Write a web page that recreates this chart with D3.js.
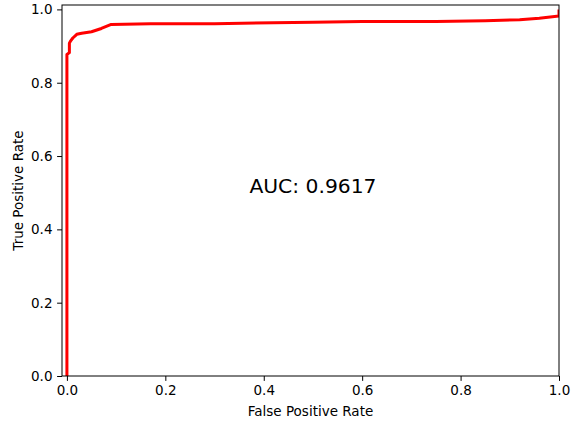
<!DOCTYPE html>
<html>
<head>
<meta charset="utf-8">
<script src="https://cdn.jsdelivr.net/npm/d3@7"></script>
<style>
  body { margin: 0; background: #fff; }
  svg { display: block; font-family: "DejaVu Sans", sans-serif; }
</style>
</head>
<body>
<div id="chart"></div>
<script>
// ROC curve points
var fpr = [0, 0, 0.005, 0.005, 0.008, 0.012, 0.02, 0.03, 0.05, 0.07, 0.09, 0.17, 0.3, 0.5, 0.6, 0.75, 0.85, 0.92, 0.96, 1.0, 1.0];
var tpr = [0, 0.877, 0.882, 0.908, 0.915, 0.922, 0.932, 0.935, 0.939, 0.948, 0.959, 0.961, 0.961, 0.965, 0.967, 0.967, 0.969, 0.972, 0.976, 0.982, 1.0];
var ticks = [0, 0.2, 0.4, 0.6, 0.8, 1.0];
var aucLabel = "AUC: 0.9617";

var width = 571, height = 425;
var margin = {top: 5, right: 12, bottom: 49, left: 62};
var w = width - margin.left - margin.right;
var h = height - margin.top - margin.bottom;

var svg = d3.select("#chart").append("svg")
    .attr("width", width)
    .attr("height", height);

var g = svg.append("g")
    .attr("transform", "translate(" + margin.left + "," + margin.top + ")");

var x = d3.scaleLinear().domain([-0.01, 1.0]).range([0, w]);
var y = d3.scaleLinear().domain([0, 1.012]).range([h, 0]);

// clip so the line stays inside the axes box
g.append("clipPath").attr("id", "clip")
  .append("rect").attr("width", w).attr("height", h);

var pts = fpr.map(function(d, i) { return [d, tpr[i]]; });

var line = d3.line()
    .x(function(d) { return x(d[0]); })
    .y(function(d) { return y(d[1]); });

g.append("path")
    .datum(pts)
    .attr("clip-path", "url(#clip)")
    .attr("d", line)
    .attr("fill", "none")
    .attr("stroke", "#ff0000")
    .attr("stroke-width", 3)
    .attr("stroke-linejoin", "round");

// axes
var xAxis = g.append("g")
    .attr("transform", "translate(0," + h + ")")
    .call(d3.axisBottom(x).tickValues(ticks).tickFormat(d3.format(".1f"))
      .tickSize(4.9).tickPadding(4.6).tickSizeOuter(0));

var yAxis = g.append("g")
    .call(d3.axisLeft(y).tickValues(ticks).tickFormat(d3.format(".1f"))
      .tickSize(4.9).tickPadding(4.6).tickSizeOuter(0));

[xAxis, yAxis].forEach(function(a) {
  a.select(".domain").remove();
  a.selectAll("text").attr("font-size", 13.5).attr("font-family", "DejaVu Sans").attr("fill", "#000");
  a.selectAll("line").attr("stroke", "#000").attr("stroke-width", 1);
});

// frame
g.append("rect")
    .attr("x", 0).attr("y", 0)
    .attr("width", w).attr("height", h)
    .attr("fill", "none")
    .attr("stroke", "#000")
    .attr("stroke-width", 1);

// labels
svg.append("text")
    .attr("x", margin.left + w / 2)
    .attr("y", 416)
    .attr("text-anchor", "middle")
    .attr("font-size", 13.5)
    .text("False Positive Rate");

svg.append("text")
    .attr("transform", "translate(23.3," + (margin.top + h / 2) + ") rotate(-90)")
    .attr("text-anchor", "middle")
    .attr("font-size", 13.5)
    .text("True Positive Rate");

g.append("text")
    .attr("x", x(0.5))
    .attr("y", y(0.5))
    .attr("text-anchor", "middle")
    .attr("font-size", 20.3)
    .text(aucLabel);
</script>
</body>
</html>
